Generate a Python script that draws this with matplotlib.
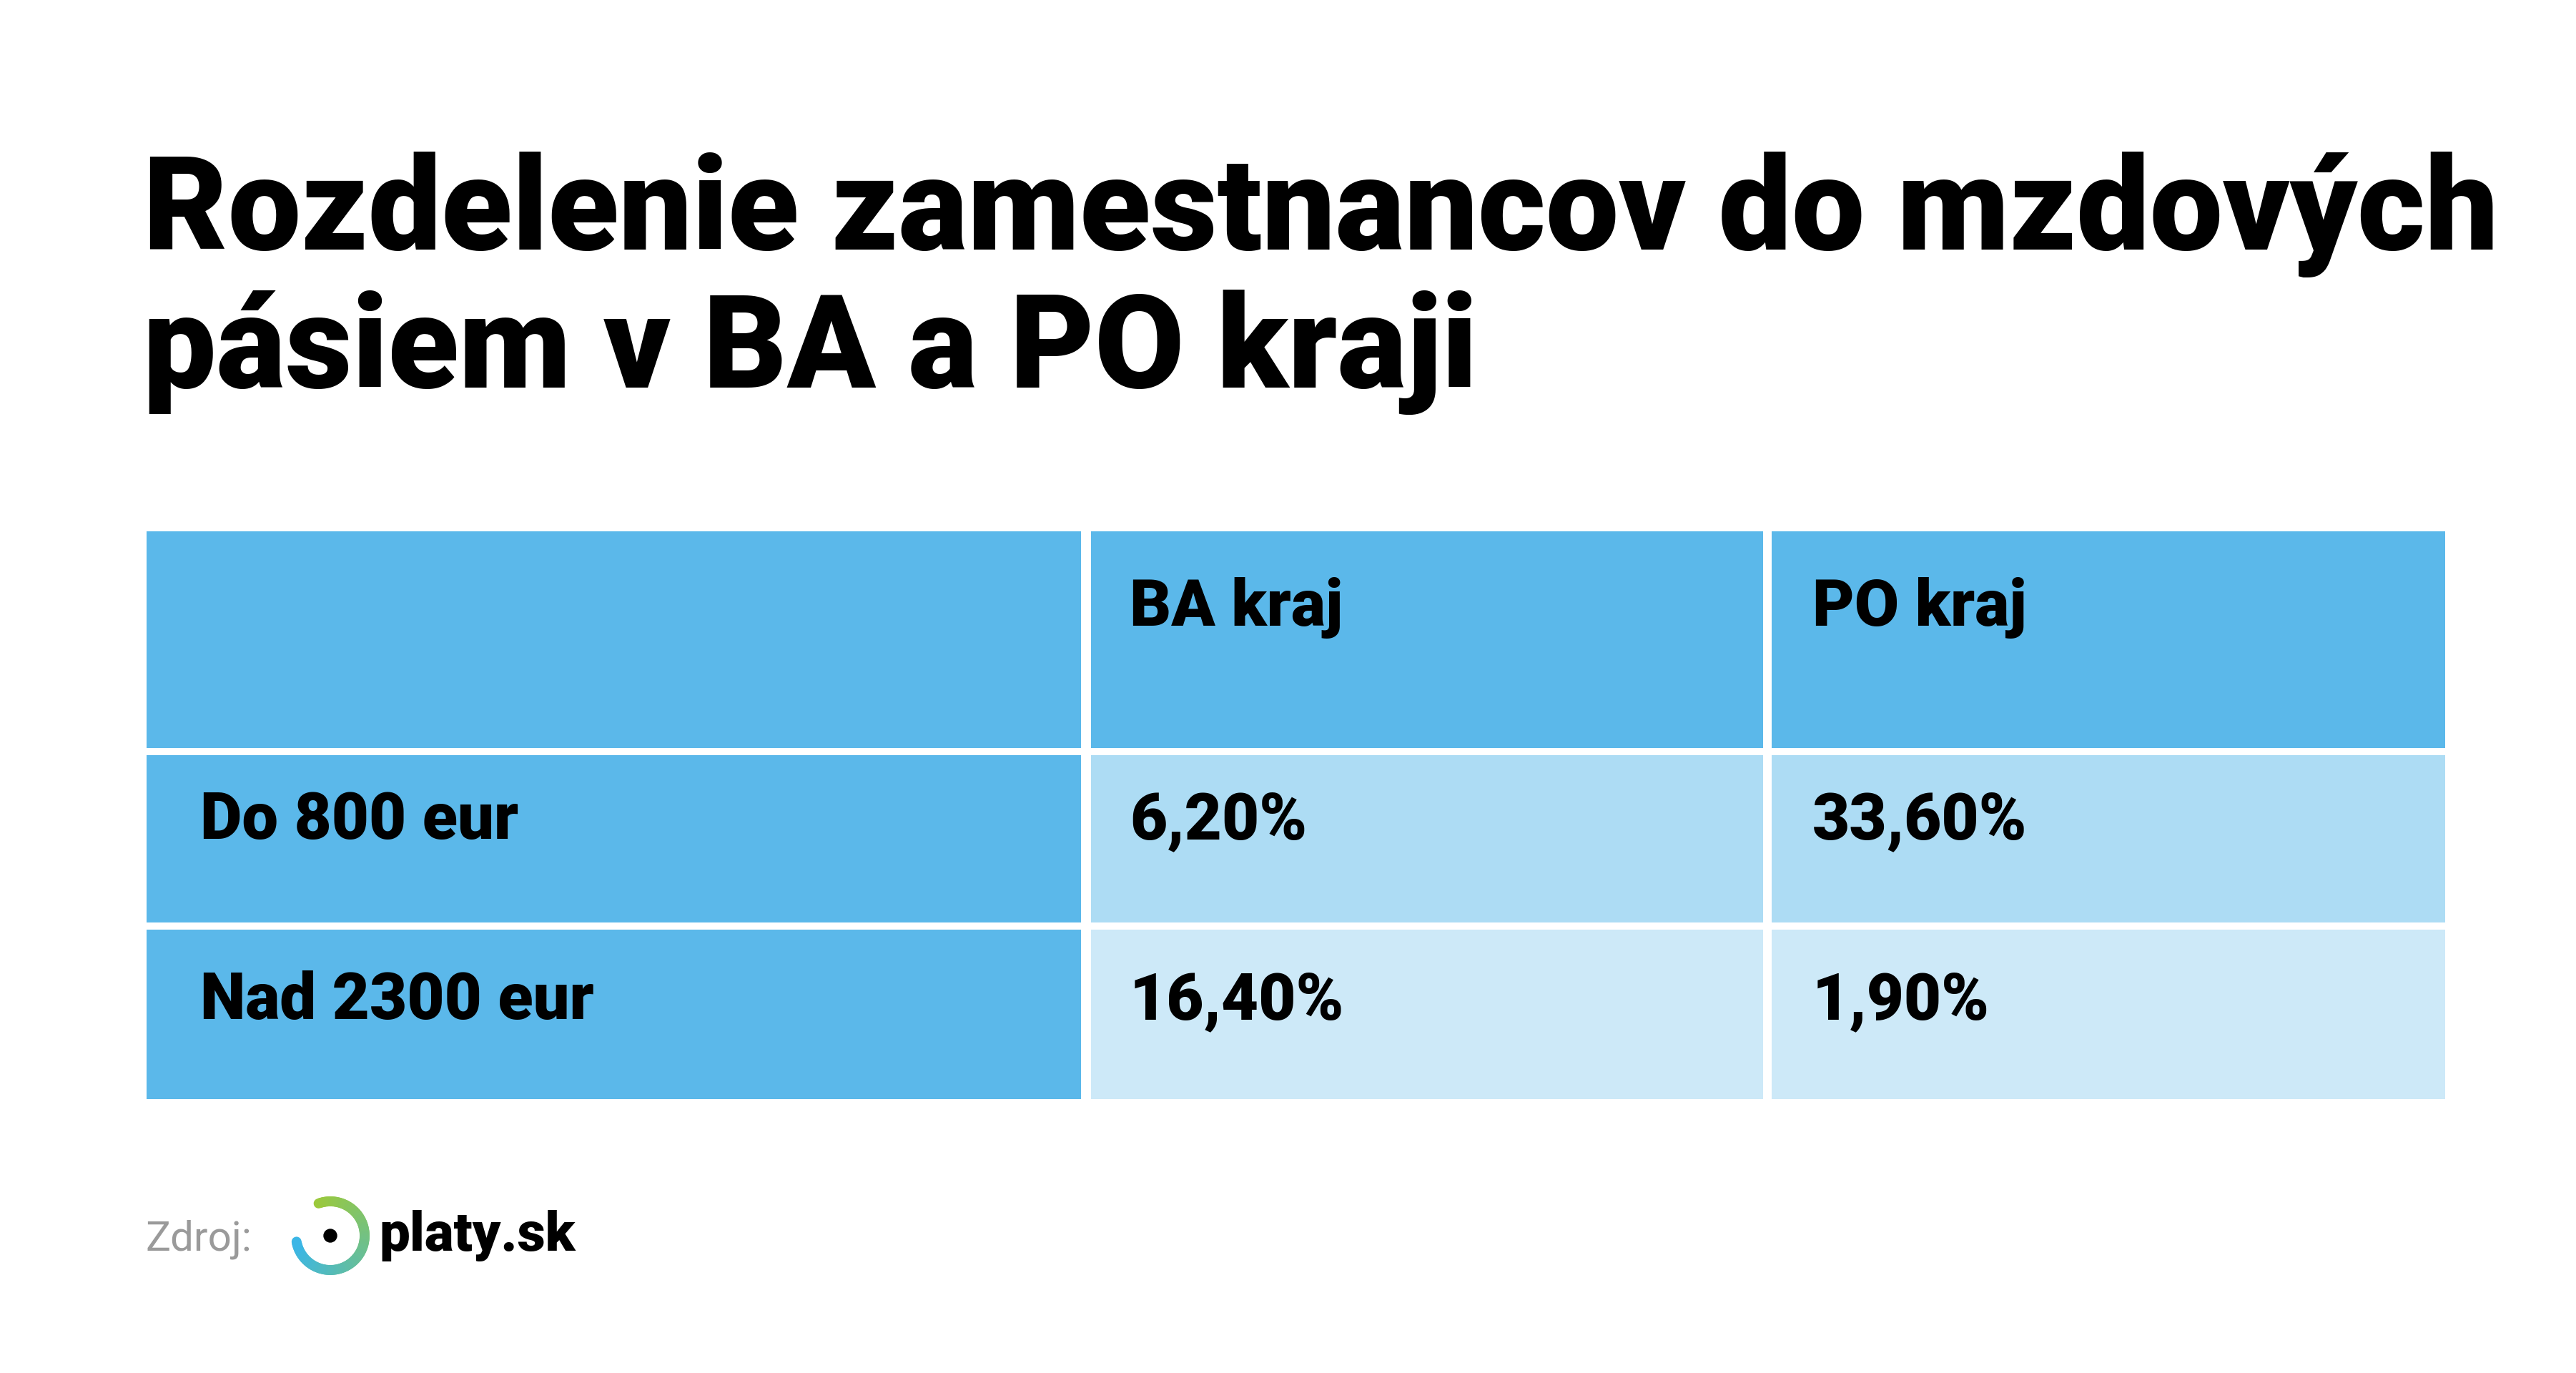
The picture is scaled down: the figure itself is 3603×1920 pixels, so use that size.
import numpy as np
import matplotlib.pyplot as plt
from matplotlib.patches import Rectangle, Circle
from matplotlib.colors import to_rgb

title_lines = ["Rozdelenie zamestnancov do mzdových", "pásiem v BA a PO kraji"]
columns = ["", "BA kraj", "PO kraj"]
rows = ["Do 800 eur", "Nad 2300 eur"]
values = [["6,20%", "33,60%"], ["16,40%", "1,90%"]]

W, H = 3603, 1920
fig = plt.figure(figsize=(W / 100, H / 100), dpi=100)
ax = fig.add_axes([0, 0, 1, 1])
ax.set_xlim(0, W)
ax.set_ylim(H, 0)
ax.axis("off")

font = "Roboto"
ax.text(200, 300, title_lines[0], fontsize=131, fontweight="heavy", family=font, va="center")
ax.text(200, 492, title_lines[1], fontsize=131, fontweight="heavy", family=font, va="center")

# table geometry (pixels)
col_x = [(205, 1512), (1526, 2466), (2478, 3420)]
row_y = [(743, 1046), (1056, 1290), (1300, 1537)]
head = "#5bb8ea"
data_cols = ["#addcf4", "#cde9f8"]

for r, (y0, y1) in enumerate(row_y):
    for c, (x0, x1) in enumerate(col_x):
        if r == 0 or c == 0:
            fc = head
        else:
            fc = data_cols[r - 1]
        ax.add_patch(Rectangle((x0, y0), x1 - x0, y1 - y0, facecolor=fc, edgecolor="none"))

text_y = [850, 1148, 1400]
text_x = [280, 1580, 2535]
for c, label in enumerate(columns):
    ax.text(text_x[c], text_y[0], label, fontsize=65, fontweight="heavy", family=font, va="center")
for r, label in enumerate(rows):
    ax.text(text_x[0], text_y[r + 1], label, fontsize=65, fontweight="heavy", family=font, va="center")
    for c, v in enumerate(values[r]):
        ax.text(text_x[c + 1], text_y[r + 1], v, fontsize=65, fontweight="heavy", family=font, va="center")

# source + logo
ax.text(203, 1733, "Zdroj:", fontsize=42, color="#9a9a9a", family=font, va="center")
cx, cy, rad = 462, 1728, 48
green, blue = np.array(to_rgb("#9cc93a")), np.array(to_rgb("#3bb6e6"))
angles = np.linspace(110, -170, 80)
for i in range(len(angles) - 1):
    t = i / (len(angles) - 2)
    a = np.radians(angles[i:i + 2])
    ax.plot(cx + rad * np.cos(a), cy - rad * np.sin(a), color=green * (1 - t) + blue * t,
            lw=10, solid_capstyle="round")
ax.add_patch(Circle((cx, cy), 9, color="black"))
ax.text(530, 1728, "platy.sk", fontsize=55, fontweight="heavy", family=font, va="center")

fig.savefig("out.png", dpi=100, facecolor="white")
